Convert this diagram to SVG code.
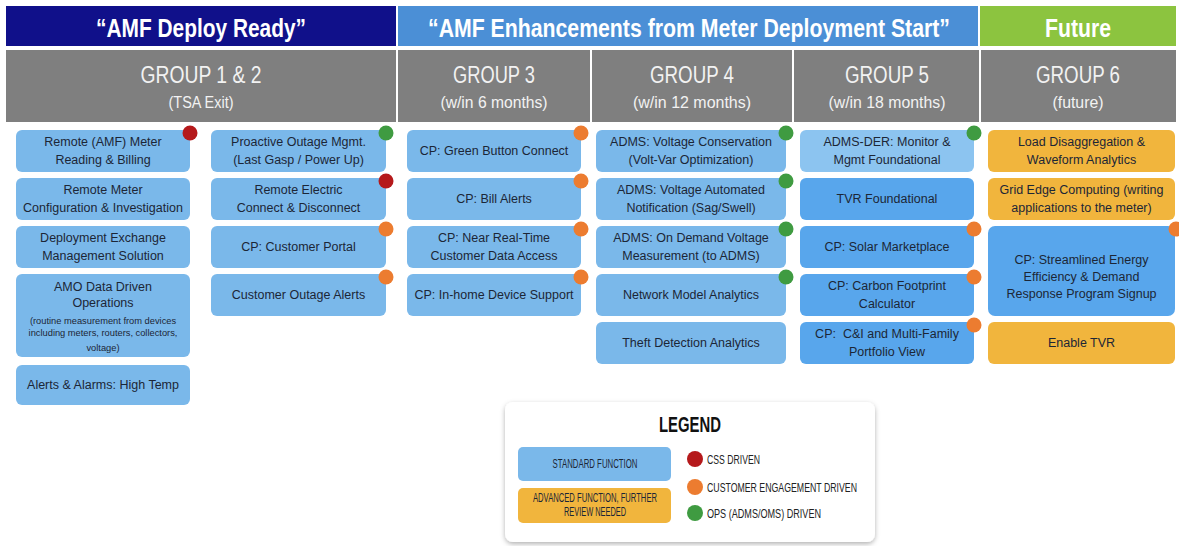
<svg xmlns="http://www.w3.org/2000/svg" width="1179" height="546" viewBox="0 0 1179 546">
<style>
.bx{fill:#7ab8ea}
.dk{fill:#58a6ec}
.lt{fill:#8cc4f0}
.adv{fill:#f1b53d}
.t{font-family:"Liberation Sans",Arial,sans-serif;font-size:12.5px;fill:#1c2636;text-anchor:middle}
.s{font-size:9.3px}
.red{fill:#b5191b}
.org{fill:#ec7c30}
.grn{fill:#3f9b41}
.ban{font-family:"Liberation Sans",Arial,sans-serif;font-weight:bold;font-size:25px;fill:#ffffff;text-anchor:middle}
.gh{font-family:"Liberation Sans",Arial,sans-serif;font-size:23px;fill:#f2f2f2;text-anchor:middle}
.gs{font-family:"Liberation Sans",Arial,sans-serif;font-size:16px;fill:#f2f2f2;text-anchor:middle}
.lg{font-family:"Liberation Sans",Arial,sans-serif;font-size:13px;fill:#222;}
.lb{font-family:"Liberation Sans",Arial,sans-serif;font-size:12px;fill:#1c2636;text-anchor:middle}
</style>
<defs>
<filter id="sh" x="-10%" y="-10%" width="120%" height="130%">
<feDropShadow dx="0" dy="2" stdDeviation="2.5" flood-color="#000" flood-opacity="0.3"/>
</filter>
</defs>
<rect width="1179" height="546" fill="#ffffff"/>

<g id="banner">
<rect x="6" y="6" width="390" height="40" fill="#10108a"/>
<rect x="398" y="6" width="580" height="40" fill="#4b8fd6"/>
<rect x="980" y="6" width="196" height="40" fill="#8cc43f"/>
<text class="ban" x="201" y="37" textLength="210" lengthAdjust="spacingAndGlyphs">“AMF Deploy Ready”</text>
<text class="ban" x="689" y="37" textLength="522" lengthAdjust="spacingAndGlyphs">“AMF Enhancements from Meter Deployment Start”</text>
<text class="ban" x="1078" y="37" textLength="66" lengthAdjust="spacingAndGlyphs">Future</text>
</g>

<g id="group-headers">
<rect x="6" y="50" width="1170" height="72" fill="#7f7f7f"/>
<g stroke="#ffffff" stroke-width="2">
<line x1="397" y1="50" x2="397" y2="122"/>
<line x1="591" y1="50" x2="591" y2="122"/>
<line x1="793" y1="50" x2="793" y2="122"/>
<line x1="980" y1="50" x2="980" y2="122"/>
</g>
<text class="gh" x="201" y="83" textLength="121" lengthAdjust="spacingAndGlyphs">GROUP 1 &amp; 2</text>
<text class="gs" x="201" y="108" textLength="65" lengthAdjust="spacingAndGlyphs">(TSA Exit)</text>
<text class="gh" x="494" y="83" textLength="82" lengthAdjust="spacingAndGlyphs">GROUP 3</text>
<text class="gs" x="494" y="108" textLength="107" lengthAdjust="spacingAndGlyphs">(w/in 6 months)</text>
<text class="gh" x="692" y="83" textLength="84" lengthAdjust="spacingAndGlyphs">GROUP 4</text>
<text class="gs" x="692" y="108" textLength="118" lengthAdjust="spacingAndGlyphs">(w/in 12 months)</text>
<text class="gh" x="887" y="83" textLength="84" lengthAdjust="spacingAndGlyphs">GROUP 5</text>
<text class="gs" x="887" y="108" textLength="117" lengthAdjust="spacingAndGlyphs">(w/in 18 months)</text>
<text class="gh" x="1078" y="83" textLength="84" lengthAdjust="spacingAndGlyphs">GROUP 6</text>
<text class="gs" x="1078" y="108" textLength="51" lengthAdjust="spacingAndGlyphs">(future)</text>
</g>

<!-- Column 1 -->
<g id="remote-amf-meter-reading">
<rect class="bx" x="16" y="130" width="174" height="42" rx="6"/>
<text class="t" x="103" y="146">Remote (AMF) Meter</text>
<text class="t" x="103" y="164">Reading &amp; Billing</text>
<circle class="red" cx="190" cy="133" r="7.5"/>
</g>
<g id="remote-meter-config">
<rect class="bx" x="16" y="178" width="174" height="42" rx="6"/>
<text class="t" x="103" y="194">Remote Meter</text>
<text class="t" x="103" y="212">Configuration &amp; Investigation</text>
</g>
<g id="deployment-exchange">
<rect class="bx" x="16" y="226" width="174" height="42" rx="6"/>
<text class="t" x="103" y="242">Deployment Exchange</text>
<text class="t" x="103" y="260">Management Solution</text>
</g>
<g id="amo-data-driven">
<rect class="bx" x="16" y="274" width="174" height="83" rx="6"/>
<text class="t" x="103" y="291">AMO Data Driven</text>
<text class="t" x="103" y="307">Operations</text>
<text class="t s" x="103" y="324">(routine measurement from devices</text>
<text class="t s" x="103" y="336">including meters, routers, collectors,</text>
<text class="t s" x="103" y="351">voltage)</text>
</g>
<g id="alerts-alarms">
<rect class="bx" x="16" y="365" width="174" height="40" rx="6"/>
<text class="t" x="103" y="389">Alerts &amp; Alarms: High Temp</text>
</g>

<!-- Column 2 -->
<g id="proactive-outage">
<rect class="bx" x="211" y="130" width="175" height="42" rx="6"/>
<text class="t" x="298.5" y="146">Proactive Outage Mgmt.</text>
<text class="t" x="298.5" y="164">(Last Gasp / Power Up)</text>
<circle class="grn" cx="386" cy="133" r="7.5"/>
</g>
<g id="remote-electric">
<rect class="bx" x="211" y="178" width="175" height="42" rx="6"/>
<text class="t" x="298.5" y="194">Remote Electric</text>
<text class="t" x="298.5" y="212">Connect &amp; Disconnect</text>
<circle class="red" cx="386" cy="181" r="7.5"/>
</g>
<g id="customer-portal">
<rect class="bx" x="211" y="226" width="175" height="42" rx="6"/>
<text class="t" x="298.5" y="251">CP: Customer Portal</text>
<circle class="org" cx="386" cy="229" r="7.5"/>
</g>
<g id="customer-outage-alerts">
<rect class="bx" x="211" y="274" width="175" height="42" rx="6"/>
<text class="t" x="298.5" y="299">Customer Outage Alerts</text>
<circle class="org" cx="386" cy="277" r="7.5"/>
</g>

<!-- Column 3 -->
<g id="green-button">
<rect class="bx" x="407" y="130" width="174" height="42" rx="6"/>
<text class="t" x="494" y="155">CP: Green Button Connect</text>
<circle class="org" cx="581" cy="133" r="7.5"/>
</g>
<g id="bill-alerts">
<rect class="bx" x="407" y="178" width="174" height="42" rx="6"/>
<text class="t" x="494" y="203">CP: Bill Alerts</text>
<circle class="org" cx="581" cy="181" r="7.5"/>
</g>
<g id="near-real-time">
<rect class="bx" x="407" y="226" width="174" height="42" rx="6"/>
<text class="t" x="494" y="242">CP: Near Real-Time</text>
<text class="t" x="494" y="260">Customer Data Access</text>
<circle class="org" cx="581" cy="229" r="7.5"/>
</g>
<g id="in-home-device">
<rect class="bx" x="407" y="274" width="174" height="42" rx="6"/>
<text class="t" x="494" y="299">CP: In-home Device Support</text>
<circle class="org" cx="581" cy="277" r="7.5"/>
</g>

<!-- Column 4 -->
<g id="voltage-conservation">
<rect class="bx" x="596" y="130" width="190" height="42" rx="6"/>
<text class="t" x="691" y="146">ADMS: Voltage Conservation</text>
<text class="t" x="691" y="164">(Volt-Var Optimization)</text>
<circle class="grn" cx="786" cy="133" r="7.5"/>
</g>
<g id="voltage-automated">
<rect class="bx" x="596" y="178" width="190" height="42" rx="6"/>
<text class="t" x="691" y="194">ADMS: Voltage Automated</text>
<text class="t" x="691" y="212">Notification (Sag/Swell)</text>
<circle class="grn" cx="786" cy="181" r="7.5"/>
</g>
<g id="on-demand-voltage">
<rect class="bx" x="596" y="226" width="190" height="42" rx="6"/>
<text class="t" x="691" y="242">ADMS: On Demand Voltage</text>
<text class="t" x="691" y="260">Measurement (to ADMS)</text>
<circle class="grn" cx="786" cy="229" r="7.5"/>
</g>
<g id="network-model">
<rect class="bx" x="596" y="274" width="190" height="42" rx="6"/>
<text class="t" x="691" y="299">Network Model Analytics</text>
<circle class="grn" cx="786" cy="277" r="7.5"/>
</g>
<g id="theft-detection">
<rect class="bx" x="596" y="322" width="190" height="42" rx="6"/>
<text class="t" x="691" y="347">Theft Detection Analytics</text>
</g>

<!-- Column 5 -->
<g id="adms-der">
<rect class="lt" x="800" y="130" width="174" height="42" rx="6"/>
<text class="t" x="887" y="146">ADMS-DER: Monitor &amp;</text>
<text class="t" x="887" y="164">Mgmt Foundational</text>
<circle class="grn" cx="974" cy="133" r="7.5"/>
</g>
<g id="tvr-foundational">
<rect class="dk" x="800" y="178" width="174" height="42" rx="6"/>
<text class="t" x="887" y="203">TVR Foundational</text>
</g>
<g id="solar-marketplace">
<rect class="dk" x="800" y="226" width="174" height="42" rx="6"/>
<text class="t" x="887" y="251">CP: Solar Marketplace</text>
<circle class="org" cx="974" cy="229" r="7.5"/>
</g>
<g id="carbon-footprint">
<rect class="dk" x="800" y="274" width="174" height="42" rx="6"/>
<text class="t" x="887" y="290">CP: Carbon Footprint</text>
<text class="t" x="887" y="308">Calculator</text>
<circle class="org" cx="974" cy="277" r="7.5"/>
</g>
<g id="ci-multifamily">
<rect class="dk" x="800" y="322" width="174" height="42" rx="6"/>
<text class="t" x="887" y="338" xml:space="preserve">CP:  C&amp;I and Multi-Family</text>
<text class="t" x="887" y="356">Portfolio View</text>
<circle class="org" cx="974" cy="325" r="7.5"/>
</g>

<!-- Column 6 -->
<g id="load-disaggregation">
<rect class="adv" x="988" y="130" width="187" height="42" rx="6"/>
<text class="t" x="1081.5" y="146">Load Disaggregation &amp;</text>
<text class="t" x="1081.5" y="164">Waveform Analytics</text>
</g>
<g id="grid-edge">
<rect class="adv" x="988" y="178" width="187" height="42" rx="6"/>
<text class="t" x="1081.5" y="194">Grid Edge Computing (writing</text>
<text class="t" x="1081.5" y="212">applications to the meter)</text>
</g>
<g id="streamlined-ee">
<rect class="dk" x="988" y="226" width="187" height="90" rx="7"/>
<text class="t" x="1081.5" y="264">CP: Streamlined Energy</text>
<text class="t" x="1081.5" y="281">Efficiency &amp; Demand</text>
<text class="t" x="1081.5" y="298">Response Program Signup</text>
<circle class="org" cx="1176" cy="229" r="7.5"/>
</g>
<g id="enable-tvr">
<rect class="adv" x="988" y="322" width="187" height="42" rx="6"/>
<text class="t" x="1081.5" y="347">Enable TVR</text>
</g>

<g id="connectors"></g>

<!-- Legend -->
<g id="legend">
<rect x="505" y="402" width="370" height="140" rx="8" fill="#ffffff" filter="url(#sh)"/>
<text x="690" y="432" font-family="Liberation Sans, Arial, sans-serif" font-weight="bold" font-size="22" fill="#111" text-anchor="middle" textLength="62" lengthAdjust="spacingAndGlyphs">LEGEND</text>
<rect class="bx" x="518" y="447" width="153" height="34" rx="5"/>
<text class="lb" x="595" y="468" textLength="85" lengthAdjust="spacingAndGlyphs">STANDARD FUNCTION</text>
<rect class="adv" x="518" y="488" width="153" height="35" rx="5"/>
<text class="lb" x="595" y="502" textLength="124" lengthAdjust="spacingAndGlyphs">ADVANCED FUNCTION, FURTHER</text>
<text class="lb" x="595" y="516" textLength="62" lengthAdjust="spacingAndGlyphs">REVIEW NEEDED</text>
<circle class="red" cx="695" cy="459" r="8"/>
<circle class="org" cx="695" cy="487" r="8"/>
<circle class="grn" cx="695" cy="513" r="8"/>
<text class="lg" x="707" y="464" textLength="53" lengthAdjust="spacingAndGlyphs">CSS DRIVEN</text>
<text class="lg" x="707" y="492" textLength="150" lengthAdjust="spacingAndGlyphs">CUSTOMER ENGAGEMENT DRIVEN</text>
<text class="lg" x="707" y="518" textLength="114" lengthAdjust="spacingAndGlyphs">OPS (ADMS/OMS) DRIVEN</text>
</g>
</svg>
